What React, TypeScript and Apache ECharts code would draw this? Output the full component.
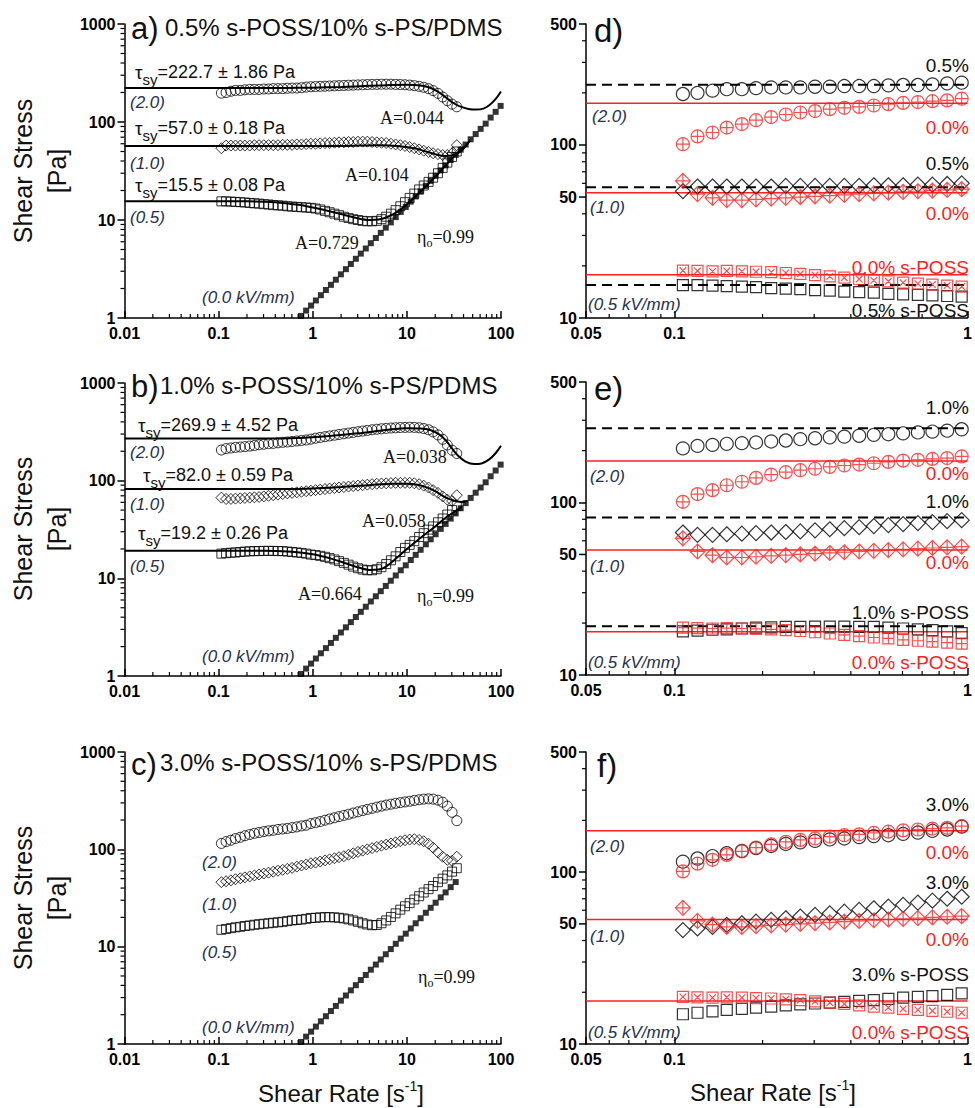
import React, { useEffect, useRef } from 'react';
import * as echarts from 'echarts';

// ---------- data ----------
const shearRate = [0.107, 0.120, 0.135, 0.151, 0.170, 0.190, 0.214, 0.240, 0.269, 0.302, 0.339, 0.380, 0.427, 0.479, 0.537, 0.603, 0.677, 0.759, 0.852, 0.955,
  1.07, 1.20, 1.35, 1.51, 1.70, 1.90, 2.14, 2.40, 2.69, 3.02, 3.39, 3.80, 4.27, 4.79, 5.37, 6.03, 6.77, 7.59, 8.52, 9.55,
  10.7, 12.0, 13.5, 15.1, 17.0, 19.0, 21.4, 24.0, 26.9, 30.2, 33.9];

// 0.5% s-POSS
const aCirc = [197, 200, 206, 210, 210, 213, 215, 215, 215, 217, 217, 219, 219, 219, 221, 222, 222, 224, 227, 229,
  230, 231, 232, 233, 234, 235, 236, 237, 238, 239, 240, 241, 242, 242, 243, 243, 243, 242, 241, 240,
  238, 235, 231, 226, 219, 209, 196, 180, 165, 152, 143];
const aDiam = [54, 57.5, 57.5, 57.5, 57.5, 57.5, 57.5, 58, 58, 58, 58, 58, 58, 58.5, 58.5, 58.5, 59, 59, 59.5, 60,
  60, 60.5, 61, 61, 61.5, 62, 62, 62.5, 62.5, 63, 63, 63, 62.5, 62, 61.5, 61, 60, 59, 58, 57,
  55.5, 54, 52.5, 51, 49.5, 48, 47, 46, 46, 48, 58];
const aSq = [15.5, 15.5, 15.4, 15.3, 15.2, 15.1, 14.9, 14.8, 14.7, 14.5, 14.4, 14.2, 14.1, 14.0, 13.8, 13.7, 13.6, 13.5, 13.4, 13.3,
  13.1, 12.8, 12.4, 12.0, 11.6, 11.2, 10.8, 10.5, 10.2, 10.0, 9.8, 9.7, 9.7, 9.8, 10.2, 10.8, 11.6, 12.6, 13.8, 15.2,
  16.8, 18.6, 20.5, 22.5, 24.5, 27, 30, 34, 38.5, 44, 50];

// 1.0% s-POSS
const bCirc = [206, 213, 216, 219, 221, 223, 226, 229, 233, 236, 239, 241, 244, 247, 249, 252, 255, 258, 261, 266,
  272, 277, 282, 287, 292, 297, 302, 307, 312, 317, 322, 327, 332, 336, 340, 343, 346, 348, 350, 351,
  352, 351, 348, 342, 332, 316, 294, 265, 232, 205, 190];
const bDiam = [67, 65, 65, 65.5, 66, 66.5, 67, 67.5, 68, 69, 70, 71, 72, 73, 74, 75, 76, 77, 78, 79,
  80, 81, 82, 83, 84, 85, 86, 87, 88, 89, 90, 91, 92, 93, 93.5, 94, 94.5, 95, 95, 95,
  95, 94, 92, 89, 85, 80, 75, 69, 64, 62, 71];
const bSq = [17.9, 18.1, 18.3, 18.4, 18.6, 18.8, 18.9, 19.0, 19.0, 19.1, 19.1, 19.1, 19.0, 19.0, 18.8, 18.6, 18.4, 18.2, 17.9, 17.5,
  17.3, 17.0, 16.6, 16.1, 15.6, 15.0, 14.4, 13.8, 13.2, 12.7, 12.3, 12.1, 12.1, 12.4, 13.0, 14.0, 15.3, 16.8, 18.6, 20.5,
  22, 24, 26.5, 29, 31.5, 34, 37.5, 41, 45, 50, 55];

// 3.0% s-POSS
const cCirc = [115, 120, 124, 129, 133, 138, 142, 146, 149, 152, 155, 157, 160, 162, 164, 167, 170, 174, 177, 184,
  188, 193, 199, 205, 211, 217, 223, 229, 236, 243, 250, 257, 264, 271, 278, 285, 291, 297, 302, 307,
  312, 318, 323, 328, 330, 328, 320, 305, 278, 240, 197];
const cDiam = [46, 47, 48, 49.3, 50.4, 51.5, 52.7, 53.9, 55.1, 56.4, 57.6, 58.9, 60.3, 61.6, 63.0, 64.5, 66.5, 68.2, 70.0, 71.9,
  73, 75, 77, 79, 81, 83, 85, 88, 91, 94, 97, 100, 103, 106, 109, 112, 115, 118, 121, 124,
  126, 127, 125, 121, 114, 104, 93, 84, 78, 76, 84];
const cSq = [14.9, 15.2, 15.5, 15.8, 16.0, 16.3, 16.5, 16.8, 17.0, 17.2, 17.4, 17.6, 17.8, 18.0, 18.3, 18.6, 18.8, 19.0, 19.3, 19.7,
  19.8, 20.0, 20.1, 20.1, 20.0, 19.8, 19.5, 19.1, 18.6, 18.0, 17.4, 16.9, 16.6, 16.7, 17.4, 18.6, 20.2, 22.0, 24.0, 26.0,
  28, 30.5, 33, 36, 39, 42, 46, 50, 54, 59, 64];

// 0.0% s-POSS reference (right panels, first 20 shear rates)
const ref20 = [101, 112, 118, 126, 132, 139, 145, 150, 154, 157, 161, 164, 166, 169, 172, 175, 177, 179, 181, 185];
const ref10 = [62, 52, 49.5, 48, 48, 48.5, 49, 49.5, 50, 50.5, 51, 51.5, 52, 52.5, 53, 53.5, 54, 54.5, 55, 55.5];
const ref05 = [18.8, 18.7, 18.6, 18.7, 18.6, 18.5, 18.4, 18.2, 18.0, 17.7, 17.4, 17.1, 16.8, 16.5, 16.3, 16.0, 15.8, 15.6, 15.4, 15.2];

// Newtonian (0.0 kV/mm)
const newtRate = [0.75, 0.85, 0.96, 1.08, 1.22, 1.38, 1.56, 1.76, 1.99, 2.25, 2.54, 2.87, 3.24, 3.66, 4.14, 4.68, 5.28, 5.97, 6.75, 7.62,
  8.61, 9.73, 11.0, 12.4, 14.0, 15.9, 17.9, 20.2, 22.9, 25.8, 29.2, 33.0, 37.3, 42.1, 47.6, 53.8, 60.8, 68.7, 77.6, 87.7, 99.1];
const newtStress = [1.05, 1.19, 1.34, 1.51, 1.71, 1.93, 2.18, 2.46, 2.79, 3.15, 3.56, 4.02, 4.54, 5.12, 5.80, 6.55, 7.39, 8.36, 9.45, 10.7,
  12.1, 13.6, 15.4, 17.4, 19.6, 22.3, 25.1, 28.3, 32.1, 36.1, 40.9, 46.2, 52.2, 58.9, 66.6, 75.3, 85.1, 96.2, 111, 127, 146];

// model fits
const fitA20 = [[0.01, 222.7], [0.5, 222.7], [1, 224], [2, 228], [4, 234], [7, 239], [10, 240], [14, 236], [18, 222], [22, 200], [26, 178], [30, 160], [36, 145], [45, 136], [55, 134], [65, 137], [75, 148], [87, 170], [100, 205]];
const fitA10 = [[0.01, 57], [2, 57], [5, 58], [8, 57], [12, 54], [16, 50], [20, 47], [25, 45], [30, 45.5], [35, 48], [41, 55], [47, 65]];
const fitA05 = [[0.01, 15.5], [0.2, 15.5], [0.4, 15.2], [0.7, 14.3], [1, 13.4], [1.5, 12.3], [2, 11.5], [3, 10.4], [4, 10], [5, 10.1], [6, 10.6], [8, 12.2], [10, 14.5], [14, 19.5], [20, 27.5], [26, 36.5], [32, 45], [40, 56]];
const fitB20 = [[0.01, 269.9], [0.3, 269.9], [0.7, 274], [1.5, 287], [3, 305], [6, 330], [10, 345], [14, 343], [18, 328], [22, 298], [26, 258], [30, 215], [35, 180], [42, 157], [52, 148], [62, 150], [75, 165], [88, 192], [100, 228]];
const fitB10 = [[0.01, 82], [0.5, 82], [1, 83], [2, 86], [4, 90], [7, 93], [10, 93], [13, 91], [16, 86], [20, 78], [24, 70], [28, 65], [33, 62], [38, 60.5], [44, 62]];
const fitB05 = [[0.01, 19.2], [0.3, 19.2], [0.6, 18.7], [1, 17.6], [1.5, 16.1], [2, 14.8], [3, 13.0], [4, 12.2], [5, 12.3], [6, 13.2], [8, 16.5], [10, 20], [14, 26], [20, 34], [26, 42], [32, 48], [38, 54]];

// static yield stresses
const yieldA = [222.7, 57.0, 15.5];
const yieldB = [269.9, 82.0, 19.2];
const yieldRef = [174, 53, 17.8];

const leftTicksX = [0.01, 100];
const leftTicksY = [1, 1000];
const rightTicksX = [0.05, 1];
const rightTicksY = [10, 500];

// ---------- styling ----------
const FONT = 'Liberation Sans, Arial, sans-serif';
const SERIF = 'Liberation Serif, Times New Roman, serif';
const RED = '#ff2020';
const NAVY = '#22304f';
const INK = '#111';

const grids = [
  { left: 124.5, top: 24, width: 376.5, height: 294 },
  { left: 586, top: 24, width: 382, height: 294 },
  { left: 124.5, top: 383, width: 376.5, height: 293 },
  { left: 586, top: 382, width: 382, height: 293 },
  { left: 124.5, top: 752, width: 376.5, height: 292 },
  { left: 586, top: 752, width: 382, height: 292 },
];
const isLeft = (g: number) => g % 2 === 0;

const circPlus = 'path://M0,-10A10,10,0,1,1,0,10A10,10,0,1,1,0,-10ZM-10,0L10,0M0,-10L0,10';
const diamPlus = 'path://M0,-10L10,0L0,10L-10,0ZM-10,0L10,0M0,-10L0,10';
const sqX = 'path://M-10,-10L10,-10L10,10L-10,10ZM-6,-6L6,6M6,-6L-6,6';
const sqPlus = 'path://M-10,-10L10,-10L10,10L-10,10ZM-10,0L10,0M0,-10L0,10';

const pairs = (xs: number[], ys: number[]) => xs.map((x, i) => [x, ys[i]]);
const fmt = (v: number) => String(Number(Number(v).toPrecision(6)));

function axis(g: number, dir: 'x' | 'y') {
  const left = isLeft(g);
  const range = dir === 'x' ? (left ? leftTicksX : rightTicksX) : (left ? leftTicksY : rightTicksY);
  return {
    type: 'log', logBase: 10, gridIndex: g, min: range[0], max: range[1],
    axisLine: { show: true, onZero: false, lineStyle: { color: '#000', width: 1.5 } },
    axisTick: { show: true, inside: dir === 'x', length: 7, lineStyle: { color: '#000', width: 1.5 } },
    minorTick: { show: false }, splitLine: { show: false }, minorSplitLine: { show: false },
    axisLabel: { color: '#000', fontSize: 16, fontWeight: 'bold', fontFamily: FONT, margin: dir === 'x' ? 7 : 9, formatter: fmt },
  };
}

function hollow(g: number, data: any[], symbol: string, size: number, color = '#000', bw = 1) {
  return {
    type: 'scatter', xAxisIndex: g, yAxisIndex: g, data, symbol, symbolSize: size, z: 4, silent: true,
    itemStyle: { color: 'transparent', borderColor: color, borderWidth: bw },
  };
}
function fitLine(g: number, data: number[][]) {
  return {
    type: 'line', xAxisIndex: g, yAxisIndex: g, data, showSymbol: false, smooth: 0.35, z: 3, silent: true,
    lineStyle: { color: '#000', width: 2 },
  };
}
function hLine(g: number, v: number, color: string, dashed: boolean) {
  return {
    type: 'line', xAxisIndex: g, yAxisIndex: g, data: [[rightTicksX[0], v], [rightTicksX[1], v]], showSymbol: false, z: 2, silent: true,
    lineStyle: { color, width: dashed ? 2 : 1.5, type: dashed ? [10, 6] : 'solid' },
  };
}
function newt(g: number, n: number) {
  return {
    type: 'scatter', xAxisIndex: g, yAxisIndex: g, data: pairs(newtRate.slice(0, n), newtStress.slice(0, n)),
    symbol: 'rect', symbolSize: 6, z: 3, silent: true, itemStyle: { color: '#000' },
  };
}

function buildOption() {
  const series: any[] = [];
  const leftSets = [
    { g: 0, c: aCirc, d: aDiam, s: aSq, fits: [fitA20, fitA10, fitA05], n: newtRate.length },
    { g: 2, c: bCirc, d: bDiam, s: bSq, fits: [fitB20, fitB10, fitB05], n: newtRate.length },
    { g: 4, c: cCirc, d: cDiam, s: cSq, fits: [], n: 32 },
  ];
  leftSets.forEach((p) => {
    p.fits.forEach((f) => series.push(fitLine(p.g, f)));
    series.push(newt(p.g, p.n));
    series.push(hollow(p.g, pairs(shearRate, p.c), 'circle', 10));
    series.push(hollow(p.g, pairs(shearRate, p.d), 'diamond', 11));
    series.push(hollow(p.g, pairs(shearRate, p.s), 'rect', 9));
  });
  const rx = shearRate.slice(0, 20);
  const rightSets = [
    { g: 1, c: aCirc, d: aDiam, s: aSq, y: yieldA, sq: sqX },
    { g: 3, c: bCirc, d: bDiam, s: bSq, y: yieldB, sq: sqPlus },
    { g: 5, c: cCirc, d: cDiam, s: cSq, y: null as number[] | null, sq: sqX },
  ];
  rightSets.forEach((p) => {
    yieldRef.forEach((v) => series.push(hLine(p.g, v, RED, false)));
    if (p.y) p.y.forEach((v) => series.push(hLine(p.g, v, '#000', true)));
    series.push(hollow(p.g, pairs(rx, p.c.slice(0, 20)), 'circle', 13, '#000', 1.2));
    series.push(hollow(p.g, pairs(rx, p.d.slice(0, 20)), 'diamond', 15, '#000', 1.2));
    series.push(hollow(p.g, pairs(rx, p.s.slice(0, 20)), 'rect', 11, '#000', 1.2));
    series.push(hollow(p.g, pairs(rx, ref20), circPlus, 13, RED, 1.2));
    series.push(hollow(p.g, pairs(rx, ref10), diamPlus, 15, RED, 1.2));
    series.push(hollow(p.g, pairs(rx, ref05), p.sq, 11, RED, 1.2));
  });
  return {
    animation: false,
    backgroundColor: '#fff',
    grid: grids,
    xAxis: grids.map((_, g) => axis(g, 'x')),
    yAxis: grids.map((_, g) => axis(g, 'y')),
    series,
  };
}

// ---------- annotations ----------
function txt(x: number, y: number, text: string, o: any = {}) {
  return {
    type: 'text', x, y, silent: true, rotation: o.rotation || 0,
    style: {
      text, fill: o.fill || INK, fontSize: o.size || 18, fontFamily: o.family || FONT,
      fontStyle: o.italic ? 'italic' : 'normal', fontWeight: o.weight || 'normal',
      align: o.align || 'left', verticalAlign: 'middle', rich: o.rich,
    },
  };
}
const lab = (x: number, y: number, t: string) => txt(x, y, t, { italic: true, fill: NAVY, size: 17 });
const pct = (y: number, t: string, red = false) => txt(969, y, t, { align: 'right', fill: red ? RED : INK, size: 19 });
const aTxt = (x: number, y: number, t: string) => txt(x, y, t, { family: SERIF, size: 18 });
const tau = (x: number, y: number, v: string) => txt(x, y, `{t|τ}{s|sy}{n|=${v} Pa}`, {
  rich: {
    t: { fontSize: 19, fontFamily: FONT, fill: INK },
    s: { fontSize: 15, fontFamily: FONT, fill: INK, padding: [14, 0, 0, 0] },
    n: { fontSize: 18, fontFamily: FONT, fill: INK },
  },
});
const eta = (x: number, y: number) => txt(x, y, '{e|η}{o|o}{n|=0.99}', {
  rich: {
    e: { fontSize: 18, fontFamily: SERIF, fill: INK },
    o: { fontSize: 12, fontFamily: SERIF, fill: INK, padding: [12, 0, 0, 0] },
    n: { fontSize: 18, fontFamily: SERIF, fill: INK },
  },
});
const rate = (x: number, y: number) => txt(x, y, '{m|Shear Rate [s}{p|-1}{m|]}', {
  align: 'center',
  rich: {
    m: { fontSize: 24, fontFamily: FONT, fill: INK },
    p: { fontSize: 14, fontFamily: FONT, fill: INK, padding: [0, 0, 14, 0] },
  },
});

function buildGraphic(chart: any) {
  const els: any[] = [];
  const px = (g: number, v: number) => chart.convertToPixel({ xAxisIndex: g }, v);
  const py = (g: number, v: number) => chart.convertToPixel({ yAxisIndex: g }, v);
  const minors = (lo: number, hi: number) => {
    const out: number[] = [];
    for (let e = lo; e < hi; e++) for (let m = 2; m <= 9; m++) out.push(m * Math.pow(10, e));
    return out;
  };
  const tick = (x1: number, y1: number, x2: number, y2: number, w = 1.2) =>
    ({ type: 'line', silent: true, shape: { x1, y1, x2, y2 }, style: { stroke: '#000', lineWidth: w } });

  grids.forEach((_, g) => {
    const left = isLeft(g);
    const xr = left ? leftTicksX : rightTicksX;
    const yr = left ? leftTicksY : rightTicksY;
    const x0 = px(g, xr[0]);
    const y0 = py(g, yr[0]);
    const xm = left ? minors(-2, 2) : minors(-2, 0).filter((v) => v > 0.055 && v < 1);
    xm.forEach((v) => { const x = px(g, v); els.push(tick(x, y0 - 4, x, y0)); });
    const ym = left ? minors(0, 3) : minors(1, 3).filter((v) => v < 500 && Math.abs(v - 50) > 1);
    ym.forEach((v) => { const y = py(g, v); els.push(tick(x0 - 4, y, x0, y)); });
    if (!left) {
      const y50 = py(g, 50);
      els.push(tick(x0 - 7, y50, x0, y50, 1.5));
      els.push(txt(x0 - 9, y50, '50', { align: 'right', size: 16, weight: 'bold', fill: '#000' }));
    }
  });

  // y-axis names
  [171, 529, 898].forEach((y) => {
    els.push(txt(23, y, 'Shear Stress', { rotation: Math.PI / 2, align: 'center', size: 25 }));
    els.push(txt(57, y, '[Pa]', { rotation: Math.PI / 2, align: 'center', size: 25 }));
  });
  els.push(rate(341, 1093));
  els.push(rate(773, 1092));

  // panel a
  els.push(txt(131, 28, 'a)', { size: 31 }));
  els.push(txt(165, 27, '0.5% s-POSS/10% s-PS/PDMS', { size: 24 }));
  els.push(tau(135, 72, '222.7 ± 1.86'), lab(130, 102, '(2.0)'));
  els.push(tau(135, 128, '57.0 ± 0.18'), lab(130, 163, '(1.0)'));
  els.push(tau(135, 185, '15.5 ± 0.08'), lab(130, 217, '(0.5)'));
  els.push(aTxt(380, 118, 'A=0.044'), aTxt(345, 175, 'A=0.104'), aTxt(295, 243, 'A=0.729'));
  els.push(eta(417, 237), lab(202, 297, '(0.0 kV/mm)'));
  // panel b
  els.push(txt(131, 386, 'b)', { size: 31 }));
  els.push(txt(160, 385, '1.0% s-POSS/10% s-PS/PDMS', { size: 24 }));
  els.push(tau(138, 425, '269.9 ± 4.52'), lab(130, 452, '(2.0)'));
  els.push(tau(143, 475, '82.0 ± 0.59'), lab(130, 504, '(1.0)'));
  els.push(tau(138, 533, '19.2 ± 0.26'), lab(130, 566, '(0.5)'));
  els.push(aTxt(383, 457, 'A=0.038'), aTxt(362, 521, 'A=0.058'), aTxt(298, 594, 'A=0.664'));
  els.push(eta(417, 596), lab(202, 656, '(0.0 kV/mm)'));
  // panel c
  els.push(txt(131, 764, 'c)', { size: 31 }));
  els.push(txt(160, 762, '3.0% s-POSS/10% s-PS/PDMS', { size: 24 }));
  els.push(lab(202, 862, '(2.0)'), lab(202, 904, '(1.0)'), lab(202, 952, '(0.5)'));
  els.push(eta(418, 977), lab(202, 1027, '(0.0 kV/mm)'));
  // panel d
  els.push(txt(594, 30, 'd)', { size: 33 }));
  els.push(pct(65, '0.5%'), pct(127, '0.0%', true), pct(163, '0.5%'), pct(213, '0.0%', true));
  els.push(pct(267, '0.0% s-POSS', true), pct(310, '0.5% s-POSS'));
  els.push(lab(592, 116, '(2.0)'), lab(590, 207, '(1.0)'), lab(588, 304, '(0.5 kV/mm)'));
  // panel e
  els.push(txt(594, 388, 'e)', { size: 33 }));
  els.push(pct(407, '1.0%'), pct(473, '0.0%', true), pct(501, '1.0%'), pct(562, '0.0%', true));
  els.push(pct(612, '1.0% s-POSS'), pct(662, '0.0% s-POSS', true));
  els.push(lab(590, 476, '(2.0)'), lab(590, 566, '(1.0)'), lab(588, 662, '(0.5 kV/mm)'));
  // panel f
  els.push(txt(597, 765, 'f)', { size: 33 }));
  els.push(pct(804, '3.0%'), pct(852, '0.0%', true), pct(882, '3.0%'), pct(939, '0.0%', true));
  els.push(pct(974, '3.0% s-POSS'), pct(1032, '0.0% s-POSS', true));
  els.push(lab(590, 846, '(2.0)'), lab(590, 936, '(1.0)'), lab(588, 1032, '(0.5 kV/mm)'));
  return els;
}

export default function App() {
  const ref = useRef<HTMLDivElement>(null);
  useEffect(() => {
    document.body.style.margin = '0';
    const chart = echarts.init(ref.current as HTMLDivElement, null, { renderer: 'svg' });
    chart.setOption(buildOption() as any);
    chart.setOption({ graphic: buildGraphic(chart) } as any);
    return () => chart.dispose();
  }, []);
  return <div ref={ref} style={{ width: 975, height: 1108, background: '#fff' }} />;
}
